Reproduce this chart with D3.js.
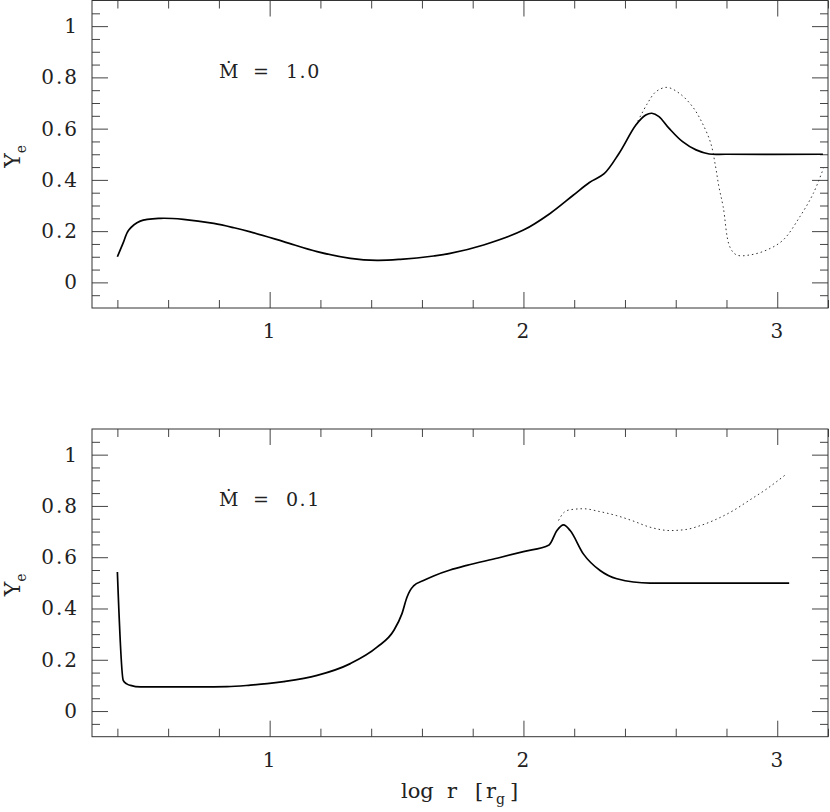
<!DOCTYPE html>
<html>
<head>
<meta charset="utf-8">
<script src="https://cdn.jsdelivr.net/npm/d3@7"></script>
<style>
  body { margin: 0; background: #fff; }
  svg text { font-family: "DejaVu Serif", "Liberation Serif", serif; fill: #222; }
</style>
</head>
<body>
<div id="chart"></div>
<script>
// Ye profiles vs log r, two accretion rates

// top panel, Mdot = 1.0
const topSolidX = [0.40, 0.422, 0.445, 0.49, 0.57, 0.66, 0.78, 0.86, 0.924, 1.055, 1.187, 1.318, 1.423, 1.515, 1.646, 1.711, 1.843, 2.0, 2.105, 2.196, 2.26, 2.318, 2.377, 2.443, 2.482, 2.506, 2.534, 2.574, 2.627, 2.68, 2.732, 2.8, 3.18];
const topSolidY = [0.10, 0.152, 0.204, 0.239, 0.25, 0.246, 0.23, 0.213, 0.197, 0.159, 0.12, 0.094, 0.086, 0.09, 0.103, 0.113, 0.146, 0.204, 0.269, 0.34, 0.39, 0.424, 0.504, 0.614, 0.653, 0.66, 0.647, 0.601, 0.549, 0.517, 0.501, 0.50, 0.50];
const topDotX = [2.443, 2.489, 2.522, 2.565, 2.614, 2.666, 2.705, 2.738, 2.757, 2.770, 2.787, 2.813, 2.84, 2.892, 2.958, 3.023, 3.089, 3.142, 3.182];
const topDotY = [0.614, 0.699, 0.744, 0.761, 0.738, 0.686, 0.621, 0.543, 0.452, 0.374, 0.295, 0.139, 0.107, 0.107, 0.126, 0.165, 0.256, 0.347, 0.445];

// bottom panel, Mdot = 0.1
const botSolidX = [0.40, 0.423, 0.437, 0.452, 0.491, 0.6, 0.727, 0.832, 0.924, 0.99, 1.055, 1.187, 1.318, 1.423, 1.489, 1.521, 1.541, 1.553, 1.567, 1.606, 1.646, 1.711, 1.777, 1.9, 2.0, 2.101, 2.132, 2.158, 2.184, 2.236, 2.302, 2.368, 2.499, 2.6, 3.047];
const botSolidY = [0.542, 0.12, 0.106, 0.10, 0.094, 0.094, 0.094, 0.095, 0.101, 0.107, 0.115, 0.139, 0.185, 0.249, 0.314, 0.379, 0.444, 0.47, 0.488, 0.509, 0.527, 0.55, 0.568, 0.597, 0.622, 0.648, 0.704, 0.726, 0.704, 0.613, 0.548, 0.516, 0.499, 0.499, 0.499];
const botDotX = [2.138, 2.16, 2.184, 2.236, 2.30, 2.368, 2.43, 2.499, 2.578, 2.64, 2.696, 2.76, 2.827, 2.89, 2.958, 3.037];
const botDotY = [0.743, 0.775, 0.785, 0.789, 0.778, 0.762, 0.742, 0.717, 0.704, 0.708, 0.723, 0.748, 0.782, 0.822, 0.866, 0.925];

const xMajor = [1, 2, 3];
const xMinor = [0.4, 0.6, 0.8, 1.2, 1.4, 1.6, 1.8, 2.2, 2.4, 2.6, 2.8, 3.2];
const yMajor = [0, 0.2, 0.4, 0.6, 0.8, 1];
const yLabels = ["0", "0.2", "0.4", "0.6", "0.8", "1"];
const mdotLabels = ["1.0", "0.1"];

function drawChart() {
    const W = 830, H = 812;
    const left = 92, right = 828;

    const svg = d3.select("#chart").append("svg")
        .attr("width", W)
        .attr("height", H);

    const x = d3.scaleLinear().domain([0.3, 3.2]).range([left, right]);

    const panels = [
        {top: 0.5, bottom: 308, solidX: topSolidX, solidY: topSolidY, dotX: topDotX, dotY: topDotY, mdot: mdotLabels[0], labY: 78, showTitle: false, curve: d3.curveCatmullRom.alpha(0.5)},
        {top: 429, bottom: 736.7, solidX: botSolidX, solidY: botSolidY, dotX: botDotX, dotY: botDotY, mdot: mdotLabels[1], labY: 506, showTitle: true, curve: d3.curveMonotoneX}
    ];

    const yMinor = d3.range(-0.05, 1.1, 0.05).filter(v => !yMajor.some(m => Math.abs(m - v) < 1e-6));

    panels.forEach(p => {
        const y = d3.scaleLinear().domain([-0.1, 1.1]).range([p.bottom, p.top]);
        const g = svg.append("g");

        // axes: ticks point inward on all four sides
        const axes = [
            [d3.axisBottom(x).tickValues(xMajor).tickSizeInner(-16).tickFormat(d3.format("d")).tickPadding(16), `translate(0,${p.bottom})`, true],
            [d3.axisBottom(x).tickValues(xMinor).tickSizeInner(-8).tickFormat(""), `translate(0,${p.bottom})`, false],
            [d3.axisTop(x).tickValues(xMajor).tickSizeInner(-16).tickFormat(""), `translate(0,${p.top})`, false],
            [d3.axisTop(x).tickValues(xMinor).tickSizeInner(-8).tickFormat(""), `translate(0,${p.top})`, false],
            [d3.axisLeft(y).tickValues(yMajor).tickSizeInner(-16).tickFormat((d, i) => yLabels[i]).tickPadding(13), `translate(${left},0)`, true],
            [d3.axisLeft(y).tickValues(yMinor).tickSizeInner(-8).tickFormat(""), `translate(${left},0)`, false],
            [d3.axisRight(y).tickValues(yMajor).tickSizeInner(-16).tickFormat(""), `translate(${right},0)`, false],
            [d3.axisRight(y).tickValues(yMinor).tickSizeInner(-8).tickFormat(""), `translate(${right},0)`, false]
        ];
        axes.forEach(([ax, tr, labelled]) => {
            const a = g.append("g").attr("transform", tr).call(ax.tickSizeOuter(0));
            a.select(".domain").remove();
            a.selectAll("line").attr("stroke", "#444");
            if (labelled) {
                a.selectAll("text")
                    .attr("font-family", null)
                    .style("font-size", "20px")
                    .style("letter-spacing", "2px")
                    .attr("fill", "#222");
            }
        });

        // frame
        g.append("rect")
            .attr("x", left)
            .attr("y", p.top)
            .attr("width", right - left)
            .attr("height", p.bottom - p.top)
            .attr("fill", "none")
            .attr("stroke", "#333")
            .attr("stroke-width", 1);

        const line = d3.line()
            .x(d => x(d[0]))
            .y(d => y(d[1]))
            .curve(p.curve);

        g.append("path")
            .datum(p.dotX.map((v, i) => [v, p.dotY[i]]))
            .attr("d", line)
            .attr("fill", "none")
            .attr("stroke", "#333")
            .attr("stroke-width", 1)
            .attr("stroke-dasharray", "1.5,3");

        g.append("path")
            .datum(p.solidX.map((v, i) => [v, p.solidY[i]]))
            .attr("d", line)
            .attr("fill", "none")
            .attr("stroke", "#000")
            .attr("stroke-width", 1.7);

        // Mdot annotation
        const ann = g.append("text")
            .attr("y", p.labY)
            .style("font-size", "19px");
        ann.append("tspan").attr("x", 219).text("\u1E40");
        ann.append("tspan").attr("x", 253).text("=");
        ann.append("tspan").attr("x", 286).style("letter-spacing", "1.5px").text(p.mdot);

        // Y label
        const yl = g.append("text")
            .attr("transform", `translate(20,${(p.top + p.bottom) / 2 + 2}) rotate(-90)`)
            .attr("text-anchor", "middle")
            .style("font-size", "22px");
        yl.append("tspan").text("Y");
        yl.append("tspan").attr("dy", 6).style("font-size", "14px").text("e");

        if (p.showTitle) {
            const t = svg.append("text")
                .attr("y", 798)
                .style("font-size", "21px");
            t.append("tspan").attr("x", 401).text("log");
            t.append("tspan").attr("x", 447).text("r");
            t.append("tspan").attr("x", 475).text("[");
            t.append("tspan").attr("x", 486).text("r");
            t.append("tspan").attr("x", 496).attr("dy", 6).style("font-size", "14px").text("g");
            t.append("tspan").attr("x", 510).attr("dy", -6).text("]");
        }
    });
}

document.addEventListener('DOMContentLoaded', drawChart);
</script>
</body>
</html>
